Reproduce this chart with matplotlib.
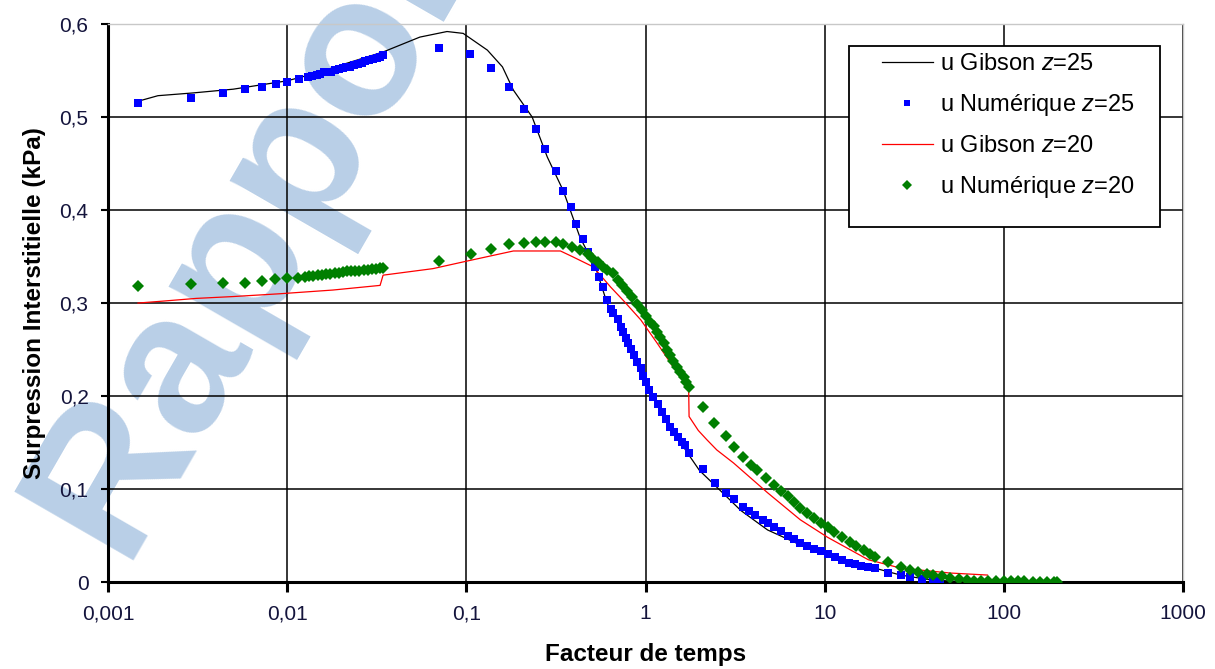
import matplotlib
matplotlib.use("Agg")
import matplotlib.pyplot as plt
from matplotlib.patches import Rectangle
from matplotlib.ticker import FixedLocator, NullLocator, FuncFormatter

plt.rcParams['font.family'] = ['Liberation Sans', 'DejaVu Sans']
plt.rcParams['mathtext.fontset'] = 'custom'
plt.rcParams['mathtext.rm'] = 'Liberation Sans'
plt.rcParams['mathtext.it'] = 'Liberation Sans:italic'

# Gibson solution z=25 (black line)
gib25_x = [0.00147, 0.0019, 0.003, 0.005, 0.01, 0.015, 0.02, 0.0343, 0.055, 0.078,
           0.096, 0.131, 0.159, 0.183, 0.233, 0.283, 0.347, 0.38, 0.43, 0.527,
           0.61, 0.72, 0.86, 1.0, 1.2, 1.45, 1.74, 2.0, 2.5, 3.4,
           4.8, 7.3, 10.4, 19, 26.5, 40, 60]
gib25_y = [0.517, 0.523, 0.526, 0.530, 0.539, 0.548, 0.556, 0.570, 0.586, 0.592,
           0.590, 0.572, 0.554, 0.529, 0.500, 0.457, 0.421, 0.400, 0.371, 0.338,
           0.300, 0.274, 0.239, 0.217, 0.188, 0.160, 0.137, 0.120, 0.102, 0.077,
           0.056, 0.040, 0.029, 0.015, 0.0075, 0.002, 0.0005]

# numerical solution z=25 (blue squares)
num25_x = [0.00147, 0.0029, 0.0044, 0.0058, 0.0072, 0.0087, 0.0100, 0.0117, 0.0131, 0.0138,
           0.0146, 0.0153, 0.0160, 0.0168, 0.0176, 0.0185, 0.0194, 0.0204, 0.0214, 0.0225,
           0.0236, 0.0248, 0.0260, 0.0273, 0.0287, 0.0300, 0.0316, 0.0330, 0.0343, 0.0705,
           0.105, 0.138, 0.172, 0.21, 0.246, 0.275, 0.315, 0.347, 0.386, 0.41,
           0.45, 0.48, 0.52, 0.55, 0.58, 0.61, 0.64, 0.66, 0.70, 0.73,
           0.75, 0.78, 0.80, 0.83, 0.86, 0.90, 0.94, 0.97, 1.00, 1.05,
           1.10, 1.17, 1.24, 1.30, 1.37, 1.45, 1.52, 1.59, 1.66, 1.75,
           2.1, 2.45, 2.8, 3.1, 3.5, 3.8, 4.1, 4.5, 4.8, 5.2,
           5.7, 6.2, 6.7, 7.3, 8.0, 8.7, 9.5, 10.4, 11.4, 12.5,
           13.6, 14.8, 16, 17.5, 19, 22.5, 26.5, 30, 35, 40, 44]
num25_y = [0.515, 0.521, 0.526, 0.530, 0.532, 0.536, 0.538, 0.541, 0.543, 0.544,
           0.545, 0.546, 0.548, 0.549, 0.549, 0.551, 0.552, 0.553, 0.554, 0.554,
           0.556, 0.557, 0.558, 0.560, 0.561, 0.562, 0.564, 0.565, 0.567, 0.574,
           0.568, 0.553, 0.532, 0.509, 0.487, 0.466, 0.442, 0.420, 0.403, 0.385,
           0.369, 0.355, 0.339, 0.328, 0.317, 0.303, 0.294, 0.289, 0.283, 0.274,
           0.269, 0.262, 0.257, 0.251, 0.244, 0.237, 0.230, 0.222, 0.215, 0.207,
           0.199, 0.191, 0.183, 0.175, 0.167, 0.161, 0.156, 0.151, 0.147, 0.139,
           0.122, 0.106, 0.096, 0.089, 0.081, 0.076, 0.072, 0.067, 0.063, 0.059,
           0.055, 0.050, 0.046, 0.042, 0.039, 0.036, 0.033, 0.030, 0.027, 0.024,
           0.021, 0.019, 0.017, 0.016, 0.015, 0.010, 0.0075, 0.005, 0.003, 0.002, 0.001]

# Gibson solution z=20 (red line)
gib20_x = [0.00147, 0.002, 0.0031, 0.005, 0.0091, 0.018, 0.033, 0.0343, 0.065, 0.10,
           0.183, 0.335, 0.39, 0.51, 0.64, 0.75, 0.94, 1.16, 1.43, 1.63,
           1.74, 1.75, 1.97, 2.2, 2.5, 3.1, 4.8, 7.3, 10.4, 17.5,
           26.5, 50, 81]
gib20_y = [0.300, 0.302, 0.305, 0.307, 0.310, 0.314, 0.319, 0.330, 0.337, 0.345,
           0.356, 0.356, 0.350, 0.339, 0.317, 0.303, 0.282, 0.257, 0.231, 0.217,
           0.210, 0.178, 0.163, 0.153, 0.142, 0.128, 0.096, 0.067, 0.048, 0.024,
           0.015, 0.0097, 0.0075]

# numerical solution z=20 (green diamonds)
num20_x = [0.00147, 0.0029, 0.0044, 0.0058, 0.0072, 0.0086, 0.0100, 0.0115, 0.0125, 0.0132,
           0.0140, 0.0148, 0.0156, 0.0165, 0.0174, 0.0184, 0.0194, 0.0205, 0.0216, 0.0228,
           0.0240, 0.0253, 0.0267, 0.0282, 0.0297, 0.0313, 0.0330, 0.0343, 0.070, 0.106,
           0.138, 0.172, 0.21, 0.246, 0.275, 0.315, 0.347, 0.39, 0.43, 0.48,
           0.50, 0.54, 0.58, 0.61, 0.66, 0.70, 0.74, 0.79, 0.84, 0.90,
           0.96, 1.01, 1.06, 1.11, 1.16, 1.21, 1.26, 1.32, 1.37, 1.43,
           1.50, 1.56, 1.63, 1.69, 1.75, 2.1, 2.4, 2.8, 3.1, 3.5,
           3.9, 4.2, 4.7, 5.2, 5.7, 6.2, 6.7, 7.3, 8.0, 8.7,
           9.5, 10.4, 11.3, 12.5, 13.9, 15, 16.5, 18, 19, 22.5,
           26.5, 30, 33, 37, 40, 45, 50, 56, 62, 68,
           75, 82, 90, 100, 110, 120, 130, 145, 160, 175, 190, 198]
num20_y = [0.318, 0.320, 0.322, 0.322, 0.324, 0.326, 0.327, 0.327, 0.328, 0.329,
           0.329, 0.330, 0.330, 0.331, 0.331, 0.332, 0.332, 0.333, 0.334, 0.334,
           0.335, 0.335, 0.336, 0.336, 0.337, 0.337, 0.338, 0.338, 0.345, 0.353,
           0.358, 0.363, 0.365, 0.366, 0.366, 0.366, 0.363, 0.360, 0.357, 0.353,
           0.348, 0.344, 0.339, 0.336, 0.332, 0.325, 0.319, 0.313, 0.306, 0.299,
           0.292, 0.286, 0.280, 0.275, 0.269, 0.263, 0.257, 0.250, 0.244, 0.238,
           0.231, 0.226, 0.220, 0.215, 0.210, 0.188, 0.171, 0.157, 0.145, 0.134,
           0.126, 0.120, 0.112, 0.104, 0.098, 0.092, 0.086, 0.080, 0.074, 0.069,
           0.064, 0.059, 0.054, 0.048, 0.043, 0.039, 0.034, 0.030, 0.027, 0.022,
           0.016, 0.013, 0.011, 0.009, 0.0075, 0.006, 0.004, 0.003, 0.002, 0.0015,
           0.001, 0.001, 0.001, 0.0008, 0.0008, 0.0006, 0.0006, 0.0005, 0.0005, 0.0004, 0.0004, 0.0004]

x_ticks = [0.001, 0.01, 0.1, 1, 10, 100, 1000]
y_ticks = [0, 0.1, 0.2, 0.3, 0.4, 0.5, 0.6]


def comma_fmt(v, pos):
    s = ('%g' % v) if v >= 1 or v == 0 else ('%.10f' % v).rstrip('0')
    return s.replace('.', ',')


fig = plt.figure(figsize=(12.15, 6.69), dpi=100)
fig.patch.set_facecolor('white')
ax = fig.add_axes([0.0889, 0.130, 0.8848, 0.834])
ax.set_facecolor('none')

# watermark behind everything
fig.text(0.0988, 0.163, 'Rapport', fontsize=144, fontweight='bold', color='#b9cfe7',
         rotation=60, rotation_mode='anchor', ha='left', va='baseline', zorder=-5)

ax.plot(gib25_x, gib25_y, color='black', lw=0.9, label=r'u Gibson $z$=25', zorder=3)
ax.plot(num25_x, num25_y, ls='none', marker='s', ms=6.2, mew=0, color='#0000ff',
        label=r'u Numérique $z$=25', zorder=4)
ax.plot(gib20_x, gib20_y, color='#ff0000', lw=0.9, label=r'u Gibson $z$=20', zorder=3)
ax.plot(num20_x, num20_y, ls='none', marker='D', ms=6.6, mew=0, color='#007f00',
        label=r'u Numérique $z$=20', zorder=4)

ax.set_xscale('log')
ax.set_xlim(0.001, 1000)
ax.set_ylim(0, 0.6)
ax.xaxis.set_major_locator(FixedLocator(x_ticks))
ax.xaxis.set_minor_locator(NullLocator())
ax.yaxis.set_major_locator(FixedLocator(y_ticks))
ax.xaxis.set_major_formatter(FuncFormatter(comma_fmt))
ax.yaxis.set_major_formatter(FuncFormatter(comma_fmt))

ax.grid(True, color='black', lw=1.1)
ax.set_axisbelow(True)
for s in ['top', 'right']:
    ax.spines[s].set_color('#c8c8c8')
    ax.spines[s].set_linewidth(1.0)
for s in ['left', 'bottom']:
    ax.spines[s].set_color('black')
    ax.spines[s].set_linewidth(2.2)

ax.tick_params(axis='x', direction='out', length=7, width=2.2, pad=9,
               labelsize=15, labelcolor='#14143c')
ax.tick_params(axis='y', direction='out', length=5, width=1.5, pad=9,
               labelsize=15, labelcolor='#14143c')

ax.set_xlabel('Facteur de temps', fontsize=17.5, fontweight='bold', labelpad=14)
ax.set_ylabel('Surpression Interstitielle (kPa)', fontsize=17.5, fontweight='bold', labelpad=10)

# legend box drawn separately (wider side margins than matplotlib's padding)
ax.add_patch(Rectangle((0.6893, 0.6362), 0.2893, 0.3244, transform=ax.transAxes,
                       facecolor='white', edgecolor='black', lw=1.3, zorder=5))
leg = ax.legend(loc='upper left', bbox_to_anchor=(0.7200, 0.948), fontsize=17,
                frameon=False, handlelength=2.15, handletextpad=0.3,
                labelspacing=0.72, borderpad=0, borderaxespad=0, markerscale=0.8)
leg.set_zorder(6)

fig.savefig('out.png', dpi=100)
